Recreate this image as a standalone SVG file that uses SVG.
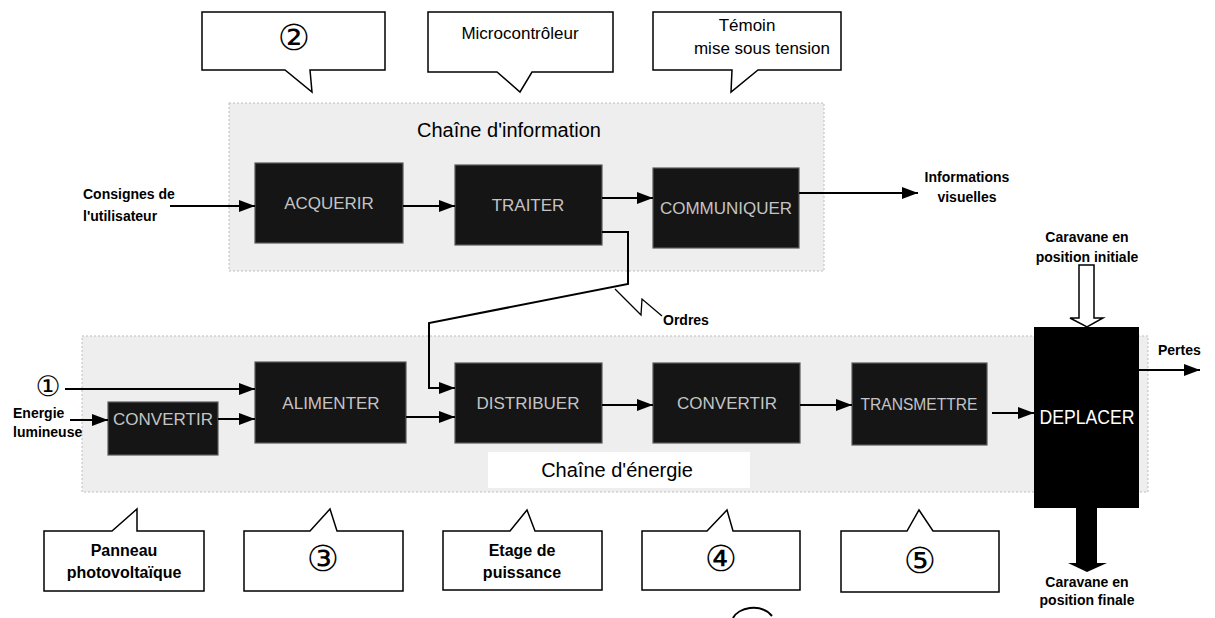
<svg xmlns="http://www.w3.org/2000/svg" width="1215" height="618" viewBox="0 0 1215 618">
<defs>
<marker id="ah" viewBox="0 0 16 12" refX="16" refY="6" markerWidth="16" markerHeight="12" markerUnits="userSpaceOnUse" orient="auto">
<path d="M0,0 L16,6 L0,12 z" fill="#000"/>
</marker>
</defs>
<style>
.area{fill:#eeeeee;stroke:#bdbdbd;stroke-width:1;stroke-dasharray:2 2}
.blk{fill:#151515;stroke:#5a5a5a;stroke-width:1.2}
.bt{font-family:"Liberation Sans",Arial,sans-serif;font-size:17px;fill:#c4c4c4;text-anchor:middle}
.co{fill:#fff;stroke:#000;stroke-width:1.5;stroke-linejoin:miter}
.ct{font-family:"Liberation Sans",Arial,sans-serif;font-size:17px;fill:#000;text-anchor:middle}
.cb{font-family:"Liberation Sans",Arial,sans-serif;font-size:16px;font-weight:bold;fill:#000;text-anchor:middle}
.lb{font-family:"Liberation Sans",Arial,sans-serif;font-size:14px;font-weight:bold;fill:#000}
.num{font-family:"DejaVu Sans",sans-serif;font-size:36px;fill:#000;text-anchor:middle}
.ttl{font-family:"Liberation Sans",Arial,sans-serif;font-size:20px;fill:#000}
.ln{fill:none;stroke:#000;stroke-width:2;marker-end:url(#ah)}
</style>

<g id="chaine-information">
<rect class="area" x="229" y="103" width="595" height="168"/>
<text class="ttl" x="417" y="137">Chaîne d'information</text>
</g>
<g id="chaine-energie">
<rect class="area" x="82" y="336" width="1066" height="156"/>
<rect x="488" y="452" width="262" height="36" fill="#fff"/>
<text class="ttl" x="617" y="477" text-anchor="middle">Chaîne d'énergie</text>
</g>

<g id="acquerir"><rect class="blk" x="255" y="163" width="148" height="80"/><text class="bt" x="329" y="209">ACQUERIR</text></g>
<g id="traiter"><rect class="blk" x="455" y="165" width="147" height="80"/><text class="bt" x="528" y="211">TRAITER</text></g>
<g id="communiquer"><rect class="blk" x="653" y="168" width="146" height="80"/><text class="bt" x="726" y="214">COMMUNIQUER</text></g>

<g id="convertir1"><rect class="blk" x="108" y="402" width="110" height="53"/><text class="bt" x="163" y="425">CONVERTIR</text></g>
<g id="alimenter"><rect class="blk" x="255" y="362" width="151" height="81"/><text class="bt" x="331" y="409">ALIMENTER</text></g>
<g id="distribuer"><rect class="blk" x="455" y="363" width="147" height="80"/><text class="bt" x="528" y="409">DISTRIBUER</text></g>
<g id="convertir2"><rect class="blk" x="653" y="363" width="147" height="80"/><text class="bt" x="727" y="409">CONVERTIR</text></g>
<g id="transmettre"><rect class="blk" x="852" y="363" width="135" height="82"/><text class="bt" x="919" y="410" textLength="117" lengthAdjust="spacingAndGlyphs">TRANSMETTRE</text></g>
<g id="deplacer"><rect x="1034" y="327" width="105" height="181" fill="#000"/><text x="1087" y="424" font-family="Liberation Sans,Arial,sans-serif" font-size="20" fill="#fff" text-anchor="middle" textLength="95" lengthAdjust="spacingAndGlyphs">DEPLACER</text></g>

<g id="callout-2"><path class="co" d="M202,12 H385 V70 H310 L312,92 L285,70 H202 Z"/><text class="num" x="294" y="50">②</text></g>
<g id="callout-micro"><path class="co" d="M428,12 H613 V72 H532 L520,92 L497,72 H428 Z"/><text class="ct" x="520" y="39">Microcontrôleur</text></g>
<g id="callout-temoin"><path class="co" d="M653,12 H841 V70 H758 L731,92 L732,70 H653 Z"/><text class="ct" x="747" y="31">Témoin</text><text class="ct" x="762" y="54">mise sous tension</text></g>

<g id="callout-panneau"><path class="co" d="M44,531 H112 L137,509 V531 H204 V591 H44 Z"/><text class="cb" x="124" y="556">Panneau</text><text class="cb" x="124" y="578">photovoltaïque</text></g>
<g id="callout-3"><path class="co" d="M244,531 H310 L330,509 L337,531 H403 V591 H244 Z"/><text class="num" x="323" y="571">③</text></g>
<g id="callout-etage"><path class="co" d="M443,531 H510 L527,510 L535,531 H602 V590 H443 Z"/><text class="cb" x="522" y="556">Etage de</text><text class="cb" x="522" y="578">puissance</text></g>
<g id="callout-4"><path class="co" d="M642,531 H707 L727,510 L733,531 H800 V590 H642 Z"/><text class="num" x="721" y="571">④</text></g>
<g id="callout-5"><path class="co" d="M841,531 H907 L919,510 L933,531 H999 V592 H841 Z"/><text class="num" x="920" y="573">⑤</text></g>

<g id="labels">
<text class="lb" x="83" y="199">Consignes de</text>
<text class="lb" x="83" y="221">l'utilisateur</text>
<text class="lb" x="967" y="182" text-anchor="middle">Informations</text>
<text class="lb" x="967" y="202" text-anchor="middle">visuelles</text>
<text class="lb" x="663" y="325">Ordres</text>
<text class="num" x="48" y="396" style="font-size:28px">①</text>
<text class="lb" x="13" y="418">Energie</text>
<text class="lb" x="13" y="437">lumineuse</text>
<text class="lb" x="1158" y="355">Pertes</text>
<text class="lb" x="1087" y="242" text-anchor="middle">Caravane en</text>
<text class="lb" x="1087" y="262" text-anchor="middle">position initiale</text>
<text class="lb" x="1087" y="587" text-anchor="middle">Caravane en</text>
<text class="lb" x="1087" y="605" text-anchor="middle">position finale</text>
</g>

<g id="connectors">
<path class="ln" d="M170,206 H255"/>
<path class="ln" d="M403,206 H455"/>
<path class="ln" d="M602,198 H653"/>
<path class="ln" d="M799,193 H918"/>
<path class="ln" d="M602,232 H628 V284 L429,323 V388 H455"/>
<path fill="none" stroke="#000" stroke-width="1.3" d="M615,289 L641,315 L642,299 L662,316"/>
<path class="ln" d="M65,389 H255"/>
<path class="ln" d="M70,420 H108"/>
<path class="ln" d="M218,419 H255"/>
<path class="ln" d="M406,417 H455"/>
<path class="ln" d="M602,405 H653"/>
<path class="ln" d="M800,405 H852"/>
<path class="ln" d="M992,413 H1034"/>
<path class="ln" d="M1139,370 H1200"/>
<path fill="#fff" stroke="#000" stroke-width="1.5" d="M1079,265 H1094 V318 H1103 L1087,327 L1070,318 H1079 Z"/>
<path fill="#000" d="M1076,508 H1097 V563 H1107 L1087,572 L1068,563 H1076 Z"/>
</g>

<path fill="none" stroke="#000" stroke-width="2" d="M733,618 C738,608 760,602 772,616"/>
</svg>
